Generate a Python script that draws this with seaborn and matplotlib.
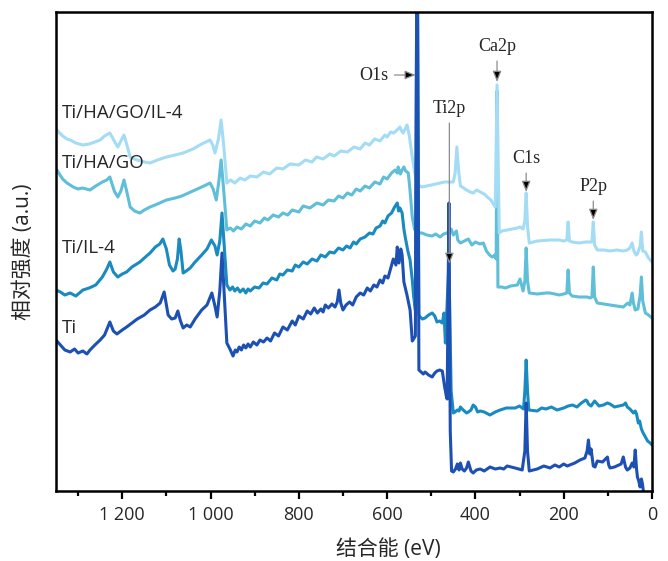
import pandas as pd
import matplotlib
matplotlib.use('Agg')
import matplotlib.pyplot as plt
from matplotlib.ticker import FixedLocator, MultipleLocator
import seaborn as sns

# XPS survey spectra (binding energy eV, relative counts)
ti = [(1350,151),(1340,146),(1330,141),(1318,139),(1308,142),(1300,138),(1289,140),(1280,137),(1273,141),
      (1262,146),(1250,151),(1240,156),(1228,169),(1220,160),(1212,157),(1200,161),(1190,164),(1178,168),
      (1166,172),(1150,176),(1137,181),(1125,184),(1114,188),(1105,199),(1096,176),(1088,172),(1080,173),
      (1074,180),(1068,170),(1062,163),(1054,166),(1046,164),(1035,172),(1020,181),(1008,186),(997,198),
      (990,185),(985,174),(979,200),(974,238),(968,190),(963,148),(955,141),(949,135),(944,141),(940,139),
      (935,144),(930,141),(925,146),(920,143),(915,147),(910,144),(903,149),(895,146),(888,151),(880,149),
      (872,153),(864,150),(855,158),(846,155),(836,164),(826,161),(815,170),(808,166),(800,175),(790,172),
      (781,180),(773,177),(765,183),(758,178),(750,182),(745,179),(740,186),(733,183),(725,187),(718,184),
      (713,189),(709,201),(705,188),(700,181),(693,186),(685,189),(678,186),(670,194),(661,198),(653,196),
      (645,203),(638,200),(630,206),(623,204),(616,211),(610,208),(605,215),(598,213),(593,221),(586,232),
      (580,226),(577,244),(573,228),(569,242),(566,236),(562,209),(555,196),(548,181),(543,150),(540,152),
      (536,155),(532,600),(528,121),(518,117),(514,119),(506,116),(498,114),(492,118),(487,120),(481,121),
      (475,120),(470,105),(466,95),(464,92),(460,288),(457,60),(454,20),(450,19),(445,22),(441,27),(437,21),
      (434,28),(430,22),(425,20),(420,23),(416,29),(410,20),(405,18),(398,21),(389,22),(380,20),(367,24),
      (355,22),(344,23),(336,22),(328,25),(310,23),(294,21),(288,40),(285,88),(282,40),(278,20),(260,22),
      (245,25),(231,23),(220,26),(210,24),(200,27),(192,25),(175,28),(163,31),(152,33),(147,40),(144,51),
      (141,37),(138,42),(133,25),(129,24),(124,30),(112,29),(101,34),(98,26),(95,23),(85,24),(70,27),(65,34),
      (60,24),(56,21),(50,23),(45,28),(41,24),(38,41),(35,22),(33,14),(30,10),(27,4),(24,12),(22,8),(18,-5)]

ti_il4 = [(1350,201),(1340,199),(1330,196),(1318,198),(1305,195),(1289,201),(1275,203),(1260,206),(1245,214),
          (1235,222),(1228,229),(1220,219),(1210,214),(1200,217),(1190,219),(1178,224),(1160,229),(1150,233),
          (1137,238),(1125,244),(1115,247),(1108,252),(1100,242),(1093,226),(1085,220),(1080,222),(1075,232),
          (1071,252),(1067,240),(1062,218),(1055,220),(1046,223),(1035,229),(1020,236),(1008,242),(998,251),
          (990,245),(985,236),(979,250),(974,278),(969,245),(963,206),(956,201),(950,204),(945,200),(939,203),
          (933,199),(926,202),(920,198),(915,202),(910,200),(900,204),(890,203),(881,208),(872,207),(861,213),
          (850,211),(843,217),(836,216),(826,221),(815,220),(808,226),(800,224),(790,229),(781,227),(770,232),
          (759,230),(750,236),(740,234),(730,239),(720,238),(710,243),(700,241),(692,245),(684,243),(676,249),
          (670,247),(661,252),(650,254),(640,258),(632,257),(625,263),(616,265),(610,270),(605,268),(598,275),
          (590,278),(583,284),(577,288),(574,280),(571,283),(566,278),(562,262),(559,254),(553,240),(548,231),
          (543,211),(540,195),(536,181),(532,600),(528,176),(525,174),(520,172),(514,173),(506,176),(498,178),
          (492,175),(487,169),(481,170),(475,168),(471,178),(468,148),(460,228),(455,100),(450,78),(446,79),
          (441,81),(437,80),(434,84),(430,82),(425,80),(420,78),(416,79),(410,81),(405,86),(400,84),(395,79),
          (389,80),(380,79),(367,76),(355,79),(344,81),(330,83),(310,83),(300,85),(291,82),(288,100),(285,131),
          (282,100),(279,81),(260,80),(250,83),(240,82),(228,84),(215,81),(200,83),(190,85),(180,86),(170,84),
          (160,88),(150,91),(147,90),(144,87),(138,85),(130,90),(120,85),(110,86),(101,88),(95,87),(85,84),
          (75,85),(65,86),(60,88),(56,84),(50,82),(42,78),(38,80),(35,77),(31,68),(28,70),(24,62),(20,58),
          (15,54),(10,50),(4,48),(0,46)]

ti_ha_go = [(1348,321),(1335,312),(1325,308),(1311,304),(1300,302),(1290,303),(1273,301),(1260,305),(1245,309),
            (1235,311),(1228,314),(1218,300),(1210,294),(1203,300),(1196,311),(1190,300),(1182,284),(1172,280),
            (1160,278),(1150,281),(1137,284),(1120,287),(1100,291),(1080,293),(1065,295),(1050,298),(1030,302),
            (1015,305),(1001,308),(994,302),(987,291),(981,310),(976,331),(970,300),(963,261),(955,263),(948,260),
            (940,264),(930,262),(920,267),(910,265),(900,270),(888,268),(878,273),(870,271),(858,276),(846,274),
            (836,278),(825,276),(815,281),(800,279),(790,285),(775,283),(759,288),(745,286),(733,291),(720,290),
            (710,295),(700,293),(690,298),(680,296),(670,302),(661,300),(650,305),(640,303),(628,309),(616,307),
            (608,314),(600,312),(590,318),(582,321),(577,318),(575,324),(570,317),(566,321),(562,324),(558,320),
            (552,318),(548,300),(543,274),(538,262),(533,258),(532,600),(531,258),(521,258),(510,256),(498,255),
            (490,257),(480,254),(472,257),(464,258),(459,261),(455,262),(450,256),(443,260),(440,251),(434,248),
            (425,250),(416,252),(408,246),(400,249),(390,247),(382,248),(375,240),(368,236),(362,234),(356,236),
            (353,232),(351,400),(349,204),(346,204),(340,204),(332,203),(320,205),(305,206),(299,212),(295,205),
            (292,200),(288,210),(285,243),(282,210),(278,198),(260,197),(240,198),(231,198),(210,196),(200,197),
            (193,198),(190,221),(187,198),(181,195),(165,194),(147,194),(140,193),(136,194),(133,224),(130,194),
            (124,188),(110,187),(95,186),(80,185),(65,184),(55,188),(50,186),(45,198),(42,188),(38,181),(32,182),
            (27,195),(24,214),(21,190),(15,178),(8,176),(0,173)]

ti_ha_go_il4 = [(1348,361),(1335,355),(1325,352),(1318,351),(1305,348),(1289,346),(1275,347),(1262,349),
                (1250,351),(1240,355),(1228,358),(1218,350),(1210,344),(1203,350),(1196,356),(1190,347),
                (1182,334),(1172,332),(1166,331),(1150,329),(1137,328),(1120,331),(1100,334),(1080,336),
                (1062,338),(1040,342),(1020,347),(1001,351),(995,346),(990,338),(982,352),(976,371),(970,345),
                (963,308),(955,311),(945,308),(933,313),(922,311),(910,315),(895,314),(880,319),(866,317),
                (850,323),(836,322),(820,327),(800,326),(785,331),(770,329),(760,334),(745,332),(730,337),
                (720,335),(705,340),(690,339),(675,344),(661,342),(650,348),(640,346),(628,352),(616,350),
                (605,356),(600,354),(592,359),(585,358),(575,362),(571,364),(567,360),(564,358),(559,362),
                (555,366),(550,356),(543,334),(538,320),(533,308),(532,600),(531,306),(521,304),(510,305),
                (500,306),(490,307),(480,308),(470,309),(460,309),(450,309),(446,318),(442,344),(438,320),
                (434,305),(430,304),(420,301),(412,299),(405,298),(397,301),(389,299),(380,297),(373,294),
                (365,291),(358,286),(355,284),(351,406),(346,258),(340,260),(328,261),(315,262),(305,263),
                (299,264),(292,262),(288,270),(285,298),(282,265),(278,248),(260,250),(231,251),(210,251),
                (200,250),(193,251),(190,269),(187,250),(181,249),(165,248),(150,249),(136,249),(133,269),
                (130,246),(124,241),(110,241),(95,240),(80,241),(65,240),(56,241),(50,243),(45,248),(41,240),
                (36,236),(33,237),(27,245),(24,259),(21,240),(15,239),(8,233),(0,229)]

# draw order: back to front
series = [('Ti/HA/GO', ti_ha_go, '#5fbed8'),
          ('Ti/HA/GO/IL-4', ti_ha_go_il4, '#a3dcf4'),
          ('Ti/IL-4', ti_il4, '#1a8bc0'),
          ('Ti', ti, '#1d50b3')]

# sample name labels (x eV, y counts)
sample_labels = [('Ti/HA/GO/IL-4', 1337, 378), ('Ti/HA/GO', 1337, 328),
                 ('Ti/IL-4', 1337, 243), ('Ti', 1337, 163)]

# peak annotations: name, peak (eV, counts), text (eV, counts)
peaks = [('O1s', (535, 416), (597, 416)),
         ('Ti2p', (459, 227), (459, 374)),
         ('Ca2p', (351, 409), (351, 436)),
         ('C1s', (285, 299), (285, 324)),
         ('P2p', (133, 271), (133, 296))]

xticks = [1200, 1000, 800, 600, 400, 200, 0]
xtick_labels = ['1 200', '1 000', '800', '600', '400', '200', '0']

sns.set_style('ticks')
sans = ['Open Sans', 'Noto Sans CJK SC']
plt.rcParams['font.family'] = sans

fig = plt.figure(figsize=(6.68, 5.61), dpi=100)
ax = fig.add_axes([56 / 668, 1 - 491 / 561, 596 / 668, 479 / 561])

for name, pts, color in series:
    df = pd.DataFrame(pts, columns=['ev', 'counts'])
    sns.lineplot(data=df, x='ev', y='counts', ax=ax, color=color, lw=2.2,
                 estimator=None, sort=False, legend=False)

for name, x, y in sample_labels:
    ax.text(x, y, name, ha='left', va='center', fontsize=13.5, family=sans)

for name, tip, txt in peaks:
    ax.annotate(name, xy=tip, xytext=txt,
                ha='right' if name == 'O1s' else 'center',
                va='center' if name == 'O1s' else 'bottom',
                fontsize=13, family='Liberation Serif',
                arrowprops=dict(arrowstyle='-|>,head_length=0.5,head_width=0.2',
                                fc='black', ec='0.55', lw=0.9, shrinkA=2, shrinkB=0))

ax.set_xlim(1350, 0)
ax.set_ylim(0, 479)
ax.xaxis.set_major_locator(FixedLocator(xticks))
ax.set_xticklabels(xtick_labels)
ax.xaxis.set_minor_locator(MultipleLocator(100))
ax.set_yticks([])
ax.tick_params(axis='x', which='major', direction='out', length=6, width=1.6,
               labelsize=13, pad=5, color='black')
ax.tick_params(axis='x', which='minor', direction='out', length=3.5, width=1.6, color='black')
for sp in ax.spines.values():
    sp.set_linewidth(1.8)
    sp.set_color('black')

ax.set_xlabel('结合能 (eV)', fontsize=15, family=sans)
ax.xaxis.set_label_coords(0.557, -0.10)
ax.set_ylabel('相对强度 (a.u.)', fontsize=15, family=sans, labelpad=16)

fig.savefig('out.png', dpi=100)
